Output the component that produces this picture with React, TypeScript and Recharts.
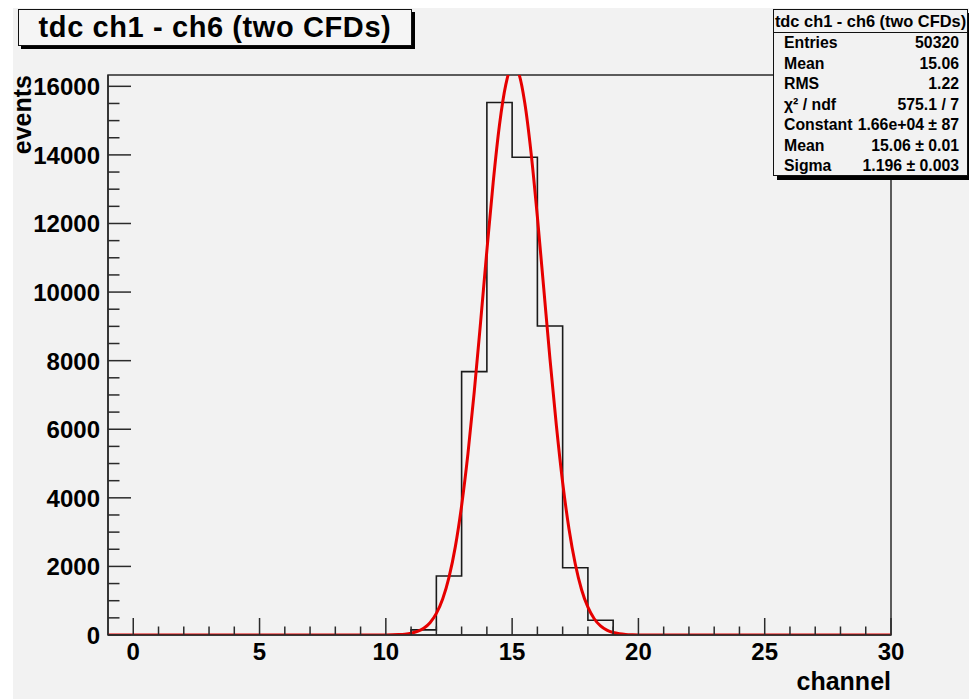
import React from 'react';
import { ComposedChart, Line, XAxis, YAxis, ReferenceArea } from 'recharts';

// histogram: low edge of each step, and the count from that edge on
const binEdges = [-1, 11, 12, 13, 14, 15, 16, 17, 18, 19, 30];
const binCounts = [0, 150, 1720, 7680, 15530, 13930, 9010, 1960, 430, 0, 0];

// red gaussian fit
const fitX = [
  -1, 10, 10.5, 10.75, 11, 11.25, 11.5, 11.75, 12, 12.25, 12.5, 12.75, 13, 13.25, 13.5, 13.75,
  14, 14.25, 14.5, 14.75, 15, 15.25, 15.5, 15.75, 16, 16.25, 16.5, 16.75, 17, 17.25, 17.5,
  17.75, 18, 18.25, 18.5, 18.75, 19, 19.25, 19.5, 19.75, 20, 30,
];
const fitY = [
  0, 2, 12, 25, 52, 104, 198, 360, 630, 1050, 1680, 2570, 3770, 5280, 7090, 9110,
  11210, 13200, 14880, 16050, 16580, 16390, 15520, 14060, 12190, 10120, 8040, 6120, 4450, 3100, 2070,
  1320, 810, 474, 265, 142, 73, 36, 17, 8, 3, 0,
];

const xTicks = [
  0, 1, 2, 3, 4, 5, 6, 7, 8, 9, 10, 11, 12, 13, 14, 15,
  16, 17, 18, 19, 20, 21, 22, 23, 24, 25, 26, 27, 28, 29, 30,
];
const yTicks = [
  0, 500, 1000, 1500, 2000, 2500, 3000, 3500, 4000, 4500, 5000, 5500, 6000, 6500, 7000, 7500,
  8000, 8500, 9000, 9500, 10000, 10500, 11000, 11500, 12000, 12500, 13000, 13500, 14000, 14500,
  15000, 15500, 16000,
];

const statLabels = ['Entries', 'Mean', 'RMS', 'χ² / ndf', 'Constant', 'Mean', 'Sigma'];
const statValues = ['50320', '15.06', '1.22', '575.1 / 7', '1.66e+04 ± 87', '15.06 ± 0.01', '1.196 ± 0.003'];

const TITLE = 'tdc ch1 - ch6 (two CFDs)';
const Y_MAX = 16330;
const FONT = '"Liberation Sans", Arial, Helvetica, sans-serif';
const LINE = '#2b2b2b';

const histData = binEdges.map((x, i) => ({ x, y: binCounts[i] }));
const fitData = fitX.map((x, i) => ({ x, y: fitY[i] }));

function XTick(props: any) {
  const { x, y, payload } = props;
  const major = payload.value % 5 === 0;
  return (
    <g>
      <line x1={x} x2={x} y1={y} y2={y - (major ? 17 : 8.5)} stroke={LINE} strokeWidth={1.5} />
      {major && (
        <text x={x} y={y + 25} textAnchor="middle" fontFamily={FONT} fontWeight="bold" fontSize={24} fill="#000">
          {payload.value}
        </text>
      )}
    </g>
  );
}

function YTick(props: any) {
  const { x, y, payload } = props;
  const major = payload.value % 2000 === 0;
  return (
    <g>
      <line x1={x} x2={x + (major ? 23 : 11.5)} y1={y} y2={y} stroke={LINE} strokeWidth={1.5} />
      {major && (
        <text x={x - 8} y={y + 9} textAnchor="end" fontFamily={FONT} fontWeight="bold" fontSize={24} fill="#000">
          {payload.value}
        </text>
      )}
    </g>
  );
}

export default function App() {
  return (
    <div style={{ position: 'absolute', left: 0, top: 0, width: 969, height: 699, background: '#fff', overflow: 'hidden' }}>
      <div style={{ position: 'absolute', left: 13, top: 8, width: 956, height: 691, background: '#f2f2f2' }} />

      <div style={{ position: 'absolute', left: 0, top: 0 }}>
        <ComposedChart width={969} height={699} margin={{ top: 75, right: 78, left: 48, bottom: 24 }}>
          <XAxis
            dataKey="x"
            type="number"
            domain={[-1, 30]}
            ticks={xTicks}
            interval={0}
            height={40}
            tickSize={0}
            tickMargin={0}
            tickLine={false}
            tick={<XTick />}
            axisLine={{ stroke: LINE, strokeWidth: 1.5 }}
            allowDataOverflow
          />
          <YAxis
            type="number"
            domain={[0, Y_MAX]}
            ticks={yTicks}
            interval={0}
            width={60}
            tickSize={0}
            tickMargin={0}
            tickLine={false}
            tick={<YTick />}
            axisLine={{ stroke: LINE, strokeWidth: 1.5 }}
            allowDataOverflow
          />
          <ReferenceArea x1={-1} x2={30} y1={0} y2={Y_MAX} fill="none" stroke={LINE} strokeWidth={1.5} />
          <Line
            data={histData}
            dataKey="y"
            type="stepAfter"
            stroke="#1a1a1a"
            strokeWidth={1.6}
            dot={false}
            activeDot={false}
            isAnimationActive={false}
          />
          <Line
            data={fitData}
            dataKey="y"
            type="monotone"
            stroke="#e60000"
            strokeWidth={3}
            dot={false}
            activeDot={false}
            isAnimationActive={false}
          />
        </ComposedChart>
      </div>

      <svg width={969} height={699} style={{ position: 'absolute', left: 0, top: 0, pointerEvents: 'none' }}>
        <text x={891} y={690} textAnchor="end" fontFamily={FONT} fontWeight="bold" fontSize={25} fill="#000">
          channel
        </text>
        <text
          transform="translate(31,75) rotate(-90)"
          textAnchor="end"
          fontFamily={FONT}
          fontWeight="bold"
          fontSize={25}
          fill="#000"
        >
          events
        </text>
      </svg>

      <div
        style={{
          position: 'absolute',
          left: 18,
          top: 9,
          width: 392,
          height: 35,
          border: '1.5px solid #111',
          background: '#f5f5f5',
          boxShadow: '3px 3px 0 #000',
          fontFamily: FONT,
          fontWeight: 'bold',
          fontSize: 29,
          lineHeight: '35px',
          textAlign: 'center',
          letterSpacing: 0.6,
          color: '#000',
        }}
      >
        {TITLE}
      </div>

      <div
        style={{
          position: 'absolute',
          left: 773,
          top: 9,
          width: 193,
          height: 165,
          border: '1.5px solid #111',
          background: '#f2f2f2',
          boxShadow: '4px 4px 0 #000',
          fontFamily: FONT,
          fontWeight: 'bold',
          color: '#000',
        }}
      >
        <div
          style={{
            height: 22,
            lineHeight: '22px',
            textAlign: 'center',
            fontSize: 16.4,
            whiteSpace: 'nowrap',
            borderBottom: '1.5px solid #111',
          }}
        >
          {TITLE}
        </div>
        {statLabels.map((label, i) => (
          <div
            key={i}
            style={{
              height: 20.5,
              display: 'flex',
              justifyContent: 'space-between',
              alignItems: 'center',
              padding: '0 8px 0 10px',
              fontSize: 15.8,
              whiteSpace: 'nowrap',
            }}
          >
            <span>{label}</span>
            <span>{statValues[i]}</span>
          </div>
        ))}
      </div>
    </div>
  );
}
